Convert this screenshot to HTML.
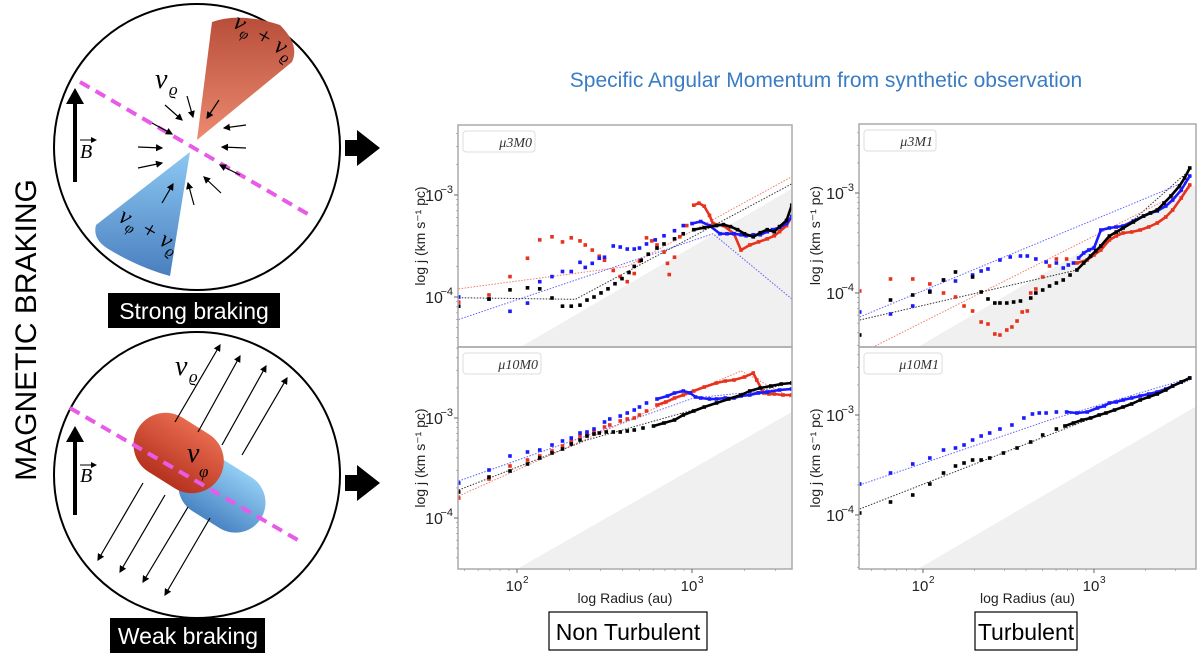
<!DOCTYPE html>
<html><head><meta charset="utf-8">
<style>
html,body{margin:0;padding:0;background:#fff;}
svg{display:block;font-family:"Liberation Sans","DejaVu Sans",sans-serif;}
</style></head>
<body>
<svg id="fig" width="1200" height="664" viewBox="0 0 1200 664" xmlns="http://www.w3.org/2000/svg">
<defs>
<linearGradient id="redg" x1="0" y1="0" x2="0" y2="1"><stop offset="0" stop-color="#b84e3a"/><stop offset="1" stop-color="#ec8a70"/></linearGradient>
<linearGradient id="blueg" x1="0" y1="0" x2="0" y2="1"><stop offset="0" stop-color="#8cc8f2"/><stop offset="1" stop-color="#4a7fbf"/></linearGradient>
<linearGradient id="capr" x1="0" y1="0" x2="0" y2="1"><stop offset="0" stop-color="#e76a4e"/><stop offset="1" stop-color="#b6321f"/></linearGradient>
<linearGradient id="capb" x1="0" y1="0" x2="0" y2="1"><stop offset="0" stop-color="#92cdf4"/><stop offset="1" stop-color="#4a85c4"/></linearGradient>
<marker id="ah" markerWidth="6" markerHeight="6" refX="5" refY="3" orient="auto"><path d="M0,0 L6,3 L0,6 z" fill="#000"/></marker>
</defs>

<text x="0" y="0" transform="translate(36,330) rotate(-90)" text-anchor="middle" font-size="30" fill="#000">MAGNETIC BRAKING</text>

<g>
  <circle cx="197" cy="147" r="143" fill="#fff" stroke="#000" stroke-width="2"/>
  <path d="M197,140 L212,22 Q240,12 280,25 Q300,45 292,62 Z" fill="url(#redg)"/>
  <path d="M190,152 L96,225 Q92,240 110,250 Q140,268 170,276 Z" fill="url(#blueg)"/>
  <line x1="80" y1="82" x2="313" y2="217" stroke="#e85ae8" stroke-width="4" stroke-dasharray="11,7"/>
  <line x1="75" y1="182" x2="75" y2="100" stroke="#000" stroke-width="4"/>
  <path d="M66,104 L75,88 L84,104 Z" fill="#000"/>
  <text x="80" y="158" font-family="Liberation Serif,serif" font-style="italic" font-size="20">B</text>
  <line x1="80" y1="140" x2="96" y2="140" stroke="#000" stroke-width="1" marker-end="url(#ah)"/>
  <text x="155" y="88" font-family="Liberation Serif,serif" font-style="italic" font-size="28">v</text><text x="169" y="95" font-family="Liberation Serif,serif" font-style="italic" font-size="17">ϱ</text>
  <text x="228" y="40" font-family="Liberation Serif,serif" font-style="italic" font-size="24" transform="rotate(30,255,40)">v<tspan font-size="15" dy="5">φ</tspan><tspan dy="-5"> + v</tspan><tspan font-size="15" dy="5">ϱ</tspan></text>
  <text x="110" y="233" font-family="Liberation Serif,serif" font-style="italic" font-size="24" transform="rotate(30,137,240)">v<tspan font-size="15" dy="5">φ</tspan><tspan dy="-5"> + v</tspan><tspan font-size="15" dy="5">ϱ</tspan></text>
  <g stroke="#000" stroke-width="1.2" marker-end="url(#ah)">
    <line x1="165" y1="105" x2="182" y2="120"/><line x1="187" y1="96" x2="193" y2="117"/>
    <line x1="219" y1="100" x2="207" y2="118"/><line x1="152" y1="123" x2="172" y2="134"/>
    <line x1="246" y1="125" x2="224" y2="128"/><line x1="138" y1="147" x2="162" y2="148"/>
    <line x1="246" y1="148" x2="222" y2="147"/><line x1="138" y1="168" x2="162" y2="163"/>
    <line x1="240" y1="175" x2="220" y2="165"/><line x1="221" y1="193" x2="204" y2="177"/>
    <line x1="194" y1="205" x2="188" y2="183"/><line x1="162" y1="203" x2="173" y2="184"/>
  </g>
  <rect x="108" y="293" width="172" height="35" fill="#000"/>
  <text x="194" y="319" text-anchor="middle" font-size="23" fill="#fff">Strong braking</text>
</g>

<g>
  <circle cx="197" cy="475" r="143" fill="#fff" stroke="#000" stroke-width="2"/>
  <g transform="rotate(32,195,475)">
    <rect x="182" y="447" width="92" height="60" rx="30" fill="url(#capb)"/>
    <rect x="122" y="433" width="95" height="64" rx="32" fill="url(#capr)"/>
  </g>
  <line x1="70" y1="408" x2="303" y2="543" stroke="#e85ae8" stroke-width="4" stroke-dasharray="11,7"/>
  <line x1="75" y1="515" x2="75" y2="438" stroke="#000" stroke-width="4"/>
  <path d="M66,442 L75,426 L84,442 Z" fill="#000"/>
  <text x="80" y="482" font-family="Liberation Serif,serif" font-style="italic" font-size="20">B</text>
  <line x1="80" y1="465" x2="96" y2="465" stroke="#000" stroke-width="1" marker-end="url(#ah)"/>
  <text x="175" y="375" font-family="Liberation Serif,serif" font-style="italic" font-size="28">v</text><text x="189" y="382" font-family="Liberation Serif,serif" font-style="italic" font-size="17">ϱ</text>
  <text x="187" y="462" font-family="Liberation Serif,serif" font-style="italic" font-size="28">v</text><text x="199" y="477" font-family="Liberation Serif,serif" font-style="italic" font-size="17">φ</text>
  <g stroke="#000" stroke-width="1.2" marker-end="url(#ah)">
    <line x1="175" y1="422" x2="220" y2="345"/><line x1="198" y1="432" x2="240" y2="356"/>
    <line x1="222" y1="445" x2="266" y2="366"/><line x1="242" y1="455" x2="287" y2="378"/>
    <line x1="143" y1="483" x2="98" y2="560"/><line x1="165" y1="495" x2="120" y2="572"/>
    <line x1="188" y1="507" x2="143" y2="582"/><line x1="210" y1="518" x2="165" y2="595"/>
  </g>
  <rect x="110" y="618" width="155" height="35" fill="#000"/>
  <text x="188" y="644" text-anchor="middle" font-size="23" fill="#fff">Weak braking</text>
</g>

<g><rect x="345" y="140" width="14" height="16" fill="#000"/><path d="M357,130 L380,148 L357,166 Z" fill="#000"/></g>
<g><rect x="345" y="475" width="14" height="16" fill="#000"/><path d="M357,465 L380,483 L357,501 Z" fill="#000"/></g>

<text x="826" y="87" text-anchor="middle" font-size="21" fill="#3a7cc3">Specific Angular Momentum from synthetic observation</text>

<g id="charts"></g>

<rect x="549" y="612" width="158" height="38" fill="#fff" stroke="#000" stroke-width="1.2"/>
<text x="628" y="640" text-anchor="middle" font-size="23" fill="#000">Non Turbulent</text>
<rect x="975" y="612" width="102" height="38" fill="#fff" stroke="#000" stroke-width="1.2"/>
<text x="1026" y="640" text-anchor="middle" font-size="23" fill="#000">Turbulent</text>
</svg>

<script>
// ===== data (log10 R [au], log10 j [km s^-1 pc]) =====
const p1BlackR = [1.667,1.84,1.96,2.06,2.13,2.2,2.26,2.31,2.36,2.4,2.44,2.48,2.52,2.56,2.6,2.64,2.67,2.71,2.75,2.8,2.84,2.9,2.95,3.01,3.07,3.14,3.18,3.22,3.26,3.3,3.35,3.39,3.43,3.47,3.5,3.54,3.57];
const p1BlackJ = [-4.09,-4.02,-3.93,-3.91,-3.92,-4.01,-4.09,-4.09,-4.08,-4.03,-4.0,-3.96,-3.92,-3.87,-3.82,-3.76,-3.70,-3.64,-3.58,-3.52,-3.48,-3.43,-3.38,-3.34,-3.32,-3.30,-3.29,-3.31,-3.34,-3.38,-3.41,-3.37,-3.34,-3.36,-3.31,-3.25,-3.10];
const p1BlueR = [1.667,1.84,1.96,2.06,2.13,2.2,2.26,2.31,2.36,2.39,2.43,2.47,2.5,2.55,2.59,2.63,2.67,2.7,2.74,2.79,2.84,2.9,2.95,3.0,3.05,3.1,3.16,3.2,3.24,3.28,3.31,3.35,3.39,3.43,3.46,3.5,3.54,3.57];
const p1BlueJ = [-4.0,-4.02,-4.14,-4.06,-3.85,-3.80,-3.75,-3.75,-3.66,-3.71,-3.67,-3.62,-3.61,-3.50,-3.51,-3.53,-3.53,-3.52,-3.48,-3.44,-3.40,-3.35,-3.30,-3.28,-3.26,-3.30,-3.38,-3.38,-3.38,-3.39,-3.40,-3.39,-3.39,-3.36,-3.34,-3.32,-3.28,-3.21];
const p1RedR = [1.667,1.84,1.96,2.06,2.13,2.2,2.26,2.31,2.36,2.39,2.43,2.47,2.5,2.55,2.59,2.63,2.67,2.7,2.74,2.77,2.8,2.84,2.86,2.87,2.9,2.93,2.97,3.01,3.04,3.07,3.1,3.12,3.18,3.24,3.28,3.33,3.38,3.43,3.47,3.5,3.54,3.57];
const p1RedJ = [-4.05,-3.98,-3.80,-3.62,-3.44,-3.41,-3.46,-3.42,-3.45,-3.49,-3.54,-3.60,-3.64,-3.74,-3.80,-3.85,-3.77,-3.65,-3.42,-3.45,-3.49,-3.56,-3.67,-3.78,-3.61,-3.41,-3.30,-3.10,-3.08,-3.11,-3.2,-3.28,-3.30,-3.38,-3.54,-3.49,-3.46,-3.43,-3.40,-3.36,-3.30,-3.21];
const p1BlackFitR = [1.667,2.333,3.571], p1BlackFitJ = [-4.007,-4.023,-2.89];
const p1BlueFitR = [1.667,3.12,3.571], p1BlueFitJ = [-4.22,-3.38,-4.02];
const p1RedFitR = [1.667,2.63,3.571], p1RedFitJ = [-3.92,-3.70,-2.82];
const p2BlackR = [1.667,1.84,1.96,2.06,2.13,2.2,2.26,2.31,2.36,2.4,2.44,2.47,2.51,2.55,2.59,2.63,2.67,2.72,2.78,2.84,2.9,2.95,3.01,3.07,3.14,3.21,3.28,3.33,3.39,3.45,3.51,3.57];
const p2BlackJ = [-3.74,-3.59,-3.53,-3.46,-3.40,-3.35,-3.31,-3.26,-3.22,-3.18,-3.16,-3.15,-3.14,-3.14,-3.14,-3.13,-3.12,-3.10,-3.08,-3.05,-3.02,-2.97,-2.93,-2.89,-2.85,-2.81,-2.77,-2.73,-2.70,-2.68,-2.66,-2.65];
const p2BlueR = [1.667,1.84,1.96,2.06,2.13,2.2,2.26,2.31,2.36,2.4,2.44,2.5,2.53,2.59,2.63,2.67,2.7,2.74,2.8,2.86,2.9,2.95,2.99,3.02,3.05,3.1,3.14,3.19,3.24,3.28,3.33,3.38,3.43,3.5,3.57];
const p2BlueJ = [-3.65,-3.52,-3.38,-3.34,-3.32,-3.27,-3.23,-3.20,-3.15,-3.14,-3.11,-3.04,-3.01,-2.98,-2.95,-2.92,-2.89,-2.85,-2.81,-2.78,-2.75,-2.73,-2.75,-2.79,-2.80,-2.81,-2.81,-2.80,-2.80,-2.78,-2.77,-2.75,-2.74,-2.72,-2.71];
const p2RedR = [1.667,1.84,1.96,2.06,2.13,2.2,2.26,2.31,2.36,2.4,2.44,2.5,2.53,2.59,2.63,2.67,2.7,2.74,2.8,2.85,2.9,2.95,3.01,3.07,3.14,3.19,3.24,3.3,3.35,3.37,3.41,3.44,3.47,3.52,3.57];
const p2RedJ = [-3.80,-3.61,-3.48,-3.42,-3.38,-3.33,-3.28,-3.23,-3.18,-3.16,-3.14,-3.09,-3.07,-3.03,-3.01,-3.0,-2.97,-2.93,-2.87,-2.84,-2.80,-2.77,-2.73,-2.69,-2.65,-2.63,-2.62,-2.59,-2.55,-2.62,-2.75,-2.76,-2.76,-2.77,-2.77];
const p2BlackFitR = [1.667,2.4,3.571], p2BlackFitJ = [-3.72,-3.22,-2.64];
const p2BlueFitR = [1.667,3.01,3.571], p2BlueFitJ = [-3.63,-2.80,-2.70];
const p2RedFitR = [1.667,3.01,3.28,3.571], p2RedFitJ = [-3.78,-2.73,-2.53,-2.80];
const p3BlackR = [1.63,1.81,1.94,2.04,2.12,2.19,2.29,2.34,2.38,2.42,2.45,2.49,2.53,2.57,2.63,2.66,2.7,2.74,2.78,2.82,2.86,2.9,2.94,2.98,3.01,3.04,3.09,3.13,3.17,3.23,3.29,3.33,3.37,3.41,3.45,3.5,3.53,3.56];
const p3BlackJ = [-4.42,-4.07,-4.02,-3.99,-3.87,-3.79,-3.84,-3.99,-4.06,-4.10,-4.10,-4.10,-4.09,-4.08,-4.05,-4.0,-3.97,-3.93,-3.90,-3.87,-3.82,-3.77,-3.70,-3.63,-3.58,-3.53,-3.43,-3.39,-3.35,-3.29,-3.23,-3.20,-3.17,-3.10,-3.03,-2.93,-2.85,-2.75];
const p3BlueR = [1.63,1.81,1.94,2.04,2.12,2.19,2.29,2.34,2.38,2.45,2.51,2.57,2.61,2.66,2.72,2.78,2.82,2.85,2.88,2.91,2.94,2.97,3.0,3.04,3.09,3.13,3.17,3.23,3.29,3.33,3.37,3.42,3.46,3.51,3.56];
const p3BlueJ = [-4.19,-4.21,-4.13,-3.98,-3.87,-3.88,-3.82,-3.78,-3.76,-3.67,-3.64,-3.63,-3.63,-3.66,-3.69,-3.70,-3.75,-3.72,-3.70,-3.65,-3.60,-3.57,-3.55,-3.37,-3.35,-3.34,-3.33,-3.28,-3.23,-3.20,-3.18,-3.13,-3.07,-2.97,-2.83];
const p3RedR = [1.63,1.81,1.94,2.04,2.12,2.19,2.24,2.29,2.34,2.38,2.42,2.45,2.49,2.52,2.55,2.58,2.61,2.63,2.66,2.7,2.74,2.78,2.84,2.9,2.96,3.0,3.04,3.09,3.13,3.17,3.22,3.27,3.32,3.37,3.42,3.46,3.51,3.56];
const p3RedJ = [-3.98,-3.86,-3.86,-3.91,-4.0,-4.04,-4.13,-4.18,-4.29,-4.31,-4.41,-4.42,-4.37,-4.34,-4.28,-4.19,-4.18,-4.0,-3.96,-3.84,-3.73,-3.66,-3.66,-3.70,-3.67,-3.62,-3.57,-3.47,-3.43,-3.40,-3.39,-3.37,-3.34,-3.30,-3.24,-3.17,-3.05,-2.92];
const p3BlackFitR = [1.63,2.9,3.56], p3BlackFitJ = [-4.27,-3.77,-2.77];
const p3BlueFitR = [1.63,3.56], p3BlueFitJ = [-4.24,-2.87];
const p3RedFitR = [1.72,3.56], p3RedFitJ = [-4.53,-2.95];
const p4BlackR = [1.63,1.81,1.94,2.04,2.12,2.19,2.24,2.29,2.34,2.39,2.47,2.55,2.63,2.7,2.78,2.83,2.88,2.93,2.98,3.03,3.07,3.12,3.17,3.22,3.27,3.32,3.37,3.42,3.46,3.51,3.56];
const p4BlackJ = [-3.98,-3.87,-3.80,-3.69,-3.58,-3.51,-3.48,-3.45,-3.45,-3.43,-3.38,-3.33,-3.27,-3.20,-3.14,-3.11,-3.08,-3.05,-3.03,-3.0,-2.98,-2.95,-2.92,-2.89,-2.85,-2.82,-2.79,-2.75,-2.71,-2.67,-2.63];
const p4BlueR = [1.63,1.81,1.94,2.04,2.12,2.19,2.24,2.29,2.34,2.39,2.45,2.52,2.59,2.64,2.68,2.72,2.78,2.84,2.9,2.96,3.02,3.06,3.09,3.13,3.17,3.22,3.27,3.32,3.37,3.42,3.46,3.51,3.56];
const p4BlueJ = [-3.69,-3.58,-3.49,-3.43,-3.35,-3.33,-3.30,-3.25,-3.21,-3.18,-3.14,-3.10,-3.03,-2.99,-2.98,-2.98,-2.97,-2.97,-2.98,-2.97,-2.93,-2.91,-2.88,-2.87,-2.85,-2.83,-2.81,-2.79,-2.77,-2.74,-2.71,-2.67,-2.63];
const p4BlackFitR = [1.63,3.56], p4BlackFitJ = [-3.94,-2.65];
const p4BlueFitR = [1.63,2.74,3.56], p4BlueFitJ = [-3.70,-3.05,-2.63];
const xTickVals = [2,3];
const xTickLabels = ["2","3"];
const yTickVals = [-4,-3];
const yTickLabels = ["−4","−3"];
const panelLabels = ["μ3","μ10","μ3","μ10"];
const panelSuffix = ["0","0","1","1"];

const NS = "http://www.w3.org/2000/svg";
const root = document.getElementById("charts");
function mk(tag, attrs, parent){ const e=document.createElementNS(NS,tag); for(const k in attrs) e.setAttribute(k,attrs[k]); (parent||root).appendChild(e); return e; }

const panels = [
 {x0:458,x1:792,y0:125,y1:347, ax:517,bx:175, ay:195,by:102, xLabel:false, ylx:425, lineFrom:3.0, blk:[p1BlackR,p1BlackJ], blu:[p1BlueR,p1BlueJ], red:[p1RedR,p1RedJ], fits:[[p1BlackFitR,p1BlackFitJ,"#000"],[p1BlueFitR,p1BlueFitJ,"#3b3bff"],[p1RedFitR,p1RedFitJ,"#f05a4a"]]},
 {x0:458,x1:792,y0:347,y1:569, ax:517,bx:175, ay:418,by:100, xLabel:true, ylx:425, lineFrom:2.78, blk:[p2BlackR,p2BlackJ], blu:[p2BlueR,p2BlueJ], red:[p2RedR,p2RedJ], fits:[[p2BlackFitR,p2BlackFitJ,"#000"],[p2BlueFitR,p2BlueFitJ,"#3b3bff"],[p2RedFitR,p2RedFitJ,"#f05a4a"]]},
 {x0:859,x1:1196,y0:124,y1:347, ax:923,bx:171, ay:193,by:100, xLabel:false, ylx:820, lineFrom:2.9, blk:[p3BlackR,p3BlackJ], blu:[p3BlueR,p3BlueJ], red:[p3RedR,p3RedJ], fits:[[p3BlackFitR,p3BlackFitJ,"#000"],[p3BlueFitR,p3BlueFitJ,"#3b3bff"],[p3RedFitR,p3RedFitJ,"#f05a4a"]]},
 {x0:859,x1:1196,y0:347,y1:569, ax:923,bx:171, ay:415,by:100, xLabel:true, ylx:820, lineFrom:2.8, blk:[p4BlackR,p4BlackJ], blu:[p4BlueR,p4BlueJ], red:null, fits:[[p4BlackFitR,p4BlackFitJ,"#000"],[p4BlueFitR,p4BlueFitJ,"#3b3bff"]]}
];

panels.forEach((p,i)=>{
  const g = mk("g",{});
  
  
  const X = lr => p.ax + (lr-2)*p.bx;
  const Y = lj => p.ay - (lj+3)*p.by;
  const cid = "clip"+i;
  const cp = mk("clipPath",{id:cid},g); mk("rect",{x:p.x0,y:p.y0,width:p.x1-p.x0,height:p.y1-p.y0},cp);
  const inner = mk("g",{"clip-path":"url(#"+cid+")"},g);
  const ljBot = -3 - (p.y1-p.ay)/p.by;
  const lrRight = 2 + (p.x1-p.ax)/p.bx;
  const sh = mk("polygon",{points:`${X(ljBot+6.51)},${p.y1} ${p.x1},${Y(lrRight-6.51)} ${p.x1},${p.y1}`,fill:"#f0f0f0"},inner);
  
  
  p.fits.forEach(f=>{
    const pl = mk("polyline",{points:f[0].map((r,k)=>X(r)+","+Y(f[1][k])).join(" "),fill:"none",stroke:f[2],"stroke-width":1,"stroke-dasharray":"1.5,1.5",opacity:0.8},inner);
    
    
  });
  const drawSeries=(s,col,name)=>{
    if(!s) return;
    const R=s[0], J=s[1];
    const pts=[]; R.forEach((r,k)=>{ if(r>=p.lineFrom) pts.push(X(r)+","+Y(J[k])); });
    const ln = mk("polyline",{points:pts.join(" "),fill:"none",stroke:col,"stroke-width":2.6,"stroke-linejoin":"round"},inner);
    
    
    R.forEach((r,k)=>{
      const m = mk("rect",{x:X(r)-1.8,y:Y(J[k])-1.8,width:3.6,height:3.6,fill:col},inner);
      
      
    });
  };
  drawSeries(p.red,"#e8321e","red-series");
  drawSeries(p.blu,"#1a1aff","blue-series");
  drawSeries(p.blk,"#000","black-series");
  const fr = mk("rect",{x:p.x0,y:p.y0,width:p.x1-p.x0,height:p.y1-p.y0,fill:"none",stroke:"#aaa","stroke-width":1.5},g);
  
  
  const lg = mk("rect",{x:p.x0+5,y:p.y0+6,width:(i%2? 78:72),height:21,rx:3,fill:"#fff",stroke:"#ddd"},g);
  
  
  const lt = mk("text",{x:p.x0+(i%2?80:74),y:p.y0+22,"text-anchor":"end","font-family":"Liberation Serif,serif","font-style":"italic","font-size":14,fill:"#333"},g);
  lt.textContent = panelLabels[i]+"M"+panelSuffix[i];
  
  
  for(let d=-5; d<=-2; d++){ for(let m=2;m<=9;m++){ const yy=Y(d+Math.log10(m)); if(yy>p.y0&&yy<p.y1) mk("line",{x1:p.x0-2,y1:yy,x2:p.x0,y2:yy,stroke:"#999","stroke-width":0.7},g);} }
  yTickVals.forEach((v,k)=>{
    const yy=Y(v);
    mk("line",{x1:p.x0-4,y1:yy,x2:p.x0,y2:yy,stroke:"#666"},g);
    const t = mk("text",{x:p.x0-24,y:yy+6,"text-anchor":"middle","font-size":16,fill:"#222"},g);
    t.textContent="10";
    const s = mk("text",{x:p.x0-5,y:yy-2,"text-anchor":"end","font-size":11,fill:"#222"},g);
    s.textContent=yTickLabels[k];
    
    
  });
  const yl = mk("text",{x:0,y:0,transform:`translate(${p.ylx},${(p.y0+p.y1)/2}) rotate(-90)`,"text-anchor":"middle","font-size":14,fill:"#222"},g);
  yl.textContent="log j (km s⁻¹ pc)";
  
  
  if(p.xLabel){
    for(let d=1; d<=3; d++){ for(let m=2;m<=9;m++){ const xx=X(d+Math.log10(m)); if(xx>p.x0&&xx<p.x1) mk("line",{x1:xx,y1:p.y1,x2:xx,y2:p.y1+2,stroke:"#999","stroke-width":0.7},g);} }
    xTickVals.forEach((v,k)=>{
      const xx=X(v);
      mk("line",{x1:xx,y1:p.y1,x2:xx,y2:p.y1+4,stroke:"#666"},g);
      const t = mk("text",{x:xx-3,y:p.y1+22,"text-anchor":"middle","font-size":15,fill:"#222"},g);
      t.textContent="10";
      const s = mk("text",{x:xx+6,y:p.y1+14,"font-size":10,fill:"#222"},g);
      s.textContent=xTickLabels[k];
      
      
    });
    const xl = mk("text",{x:(p.x0+p.x1)/2,y:p.y1+34,"text-anchor":"middle","font-size":14,fill:"#222"},g);
    xl.textContent="log Radius (au)";
    
    
  }
});
</script>
</body></html>
